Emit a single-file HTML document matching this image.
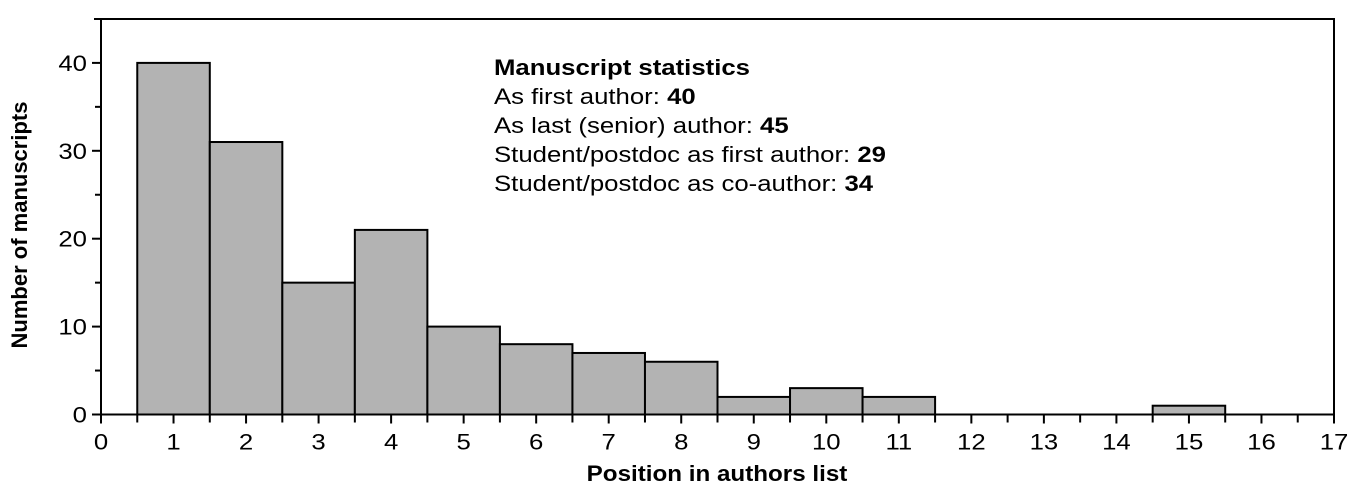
<!DOCTYPE html>
<html><head><meta charset="utf-8"><style>
body{margin:0;background:#fff;}
svg{display:block;font-family:"Liberation Sans",Arial,sans-serif;}
</style></head><body>
<svg id="chart" width="1366" height="496" viewBox="0 0 1366 496">
<g id="bars"></g>
<g id="axes"></g>
<text transform="translate(717,481) scale(1.1,1)" font-size="22" font-weight="bold" text-anchor="middle">Position in authors list</text>
<text transform="translate(27,225) rotate(-90)" font-size="22" font-weight="bold" text-anchor="middle">Number of manuscripts</text>
<g font-size="22" transform="translate(494,0) scale(1.17,1)">
<text x="0" y="75" font-weight="bold">Manuscript statistics</text>
<text x="0" y="104">As first author: <tspan font-weight="bold">40</tspan></text>
<text x="0" y="133">As last (senior) author: <tspan font-weight="bold">45</tspan></text>
<text x="0" y="162">Student/postdoc as first author: <tspan font-weight="bold">29</tspan></text>
<text x="0" y="191">Student/postdoc as co-author: <tspan font-weight="bold">34</tspan></text>
</g>
</svg>
<script>
const positions=[1,2,3,4,5,6,7,8,9,10,11,12,13,14,15,16];
const counts=[40,31,15,21,10,8,7,6,2,3,2,0,0,0,1,0];
const xTicks=[0,1,2,3,4,5,6,7,8,9,10,11,12,13,14,15,16,17];
const yTicks=[0,10,20,30,40];
const NS="http://www.w3.org/2000/svg";
const x0=101,x1=1334,y0=414.5,yTop=19;
const xs=v=>x0+(v/17)*(x1-x0);
const ys=v=>y0-v*8.79;
function mk(t,a,p){const e=document.createElementNS(NS,t);for(const k in a)e.setAttribute(k,a[k]);p.appendChild(e);return e;}
const bars=document.getElementById('bars'),axes=document.getElementById('axes');
positions.forEach((p,i)=>{if(counts[i]<=0)return;
const r=mk('rect',{x:xs(p-0.5),y:ys(counts[i]),width:xs(p+0.5)-xs(p-0.5),height:y0-ys(counts[i]),fill:'#b3b3b3',stroke:'#000','stroke-width':2},bars);

});
mk('path',{d:`M${x0} ${y0}H${x1}V${yTop}H${x0-7}M${x0} ${yTop}V${y0}`,fill:'none',stroke:'#000','stroke-width':2},axes);
xTicks.forEach(v=>{const X=xs(v);
mk('line',{x1:X,y1:y0,x2:X,y2:y0+9,stroke:'#000','stroke-width':2},axes);
if(v<17)mk('line',{x1:xs(v+0.5),y1:y0,x2:xs(v+0.5),y2:y0+8,stroke:'#000','stroke-width':2},axes);
const t=mk('text',{transform:`translate(${X},${y0+35}) scale(1.17,1)`,'font-size':22,'text-anchor':'middle'},axes);t.textContent=v;

});
for(let v=5;v<45;v+=10)mk('line',{x1:x0-6,y1:ys(v),x2:x0,y2:ys(v),stroke:'#000','stroke-width':2},axes);
yTicks.forEach(v=>{const Y=ys(v);
mk('line',{x1:x0-9,y1:Y,x2:x0,y2:Y,stroke:'#000','stroke-width':2},axes);
const t=mk('text',{transform:`translate(${x0-14},${Y+8}) scale(1.17,1)`,'font-size':22,'text-anchor':'end'},axes);t.textContent=v;

});
</script>
</body></html>
